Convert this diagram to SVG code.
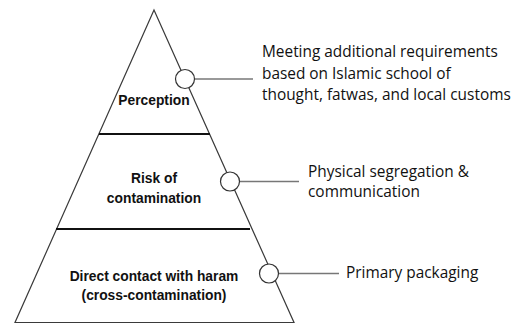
<svg xmlns="http://www.w3.org/2000/svg" width="518" height="324" viewBox="0 0 518 324">
<style>
.edge{fill:none;stroke:#3a3a3a;stroke-width:1.2}
.div{stroke:#111;stroke-width:2}
.conn{stroke:#777;stroke-width:1.5}
.dot{fill:#fff;stroke:#333;stroke-width:1.2}
.lbl{font-family:"Liberation Sans",Arial,sans-serif;font-weight:bold;font-size:13.8px;fill:#111;text-anchor:middle}
.note{font-family:"Open Sans","Liberation Sans",sans-serif;font-size:15.4px;fill:#111}
</style>
<rect width="518" height="324" fill="#fff"/>
<g id="pyramid">
<polygon class="edge" points="154,10 294,322.5 15,322.5"/>
</g>
<g id="perception">
<line class="div" x1="99" y1="134" x2="210" y2="134"/>
<text class="lbl" x="154" y="105">Perception</text>
</g>
<g id="risk">
<line class="div" x1="56" y1="229" x2="250" y2="229"/>
<text class="lbl" x="154" y="183">Risk of</text>
<text class="lbl" x="154" y="203">contamination</text>
</g>
<g id="direct">
<text class="lbl" x="154" y="281">Direct contact with haram</text>
<text class="lbl" x="154" y="300">(cross-contamination)</text>
</g>
<g id="connectors">
<line class="conn" x1="195" y1="79" x2="253" y2="79"/>
<line class="conn" x1="240" y1="181.5" x2="299" y2="181.5"/>
<line class="conn" x1="279" y1="273.5" x2="339" y2="273.5"/>
<circle class="dot" cx="185" cy="79" r="9.5"/>
<circle class="dot" cx="230" cy="181.5" r="9.5"/>
<circle class="dot" cx="269" cy="273.5" r="9.5"/>
</g>
<g id="note1">
<text class="note" x="262" y="57">Meeting additional requirements</text>
<text class="note" x="262" y="78.5">based on Islamic school of</text>
<text class="note" x="262" y="100">thought, fatwas, and local customs</text>
</g>
<g id="note2">
<text class="note" x="308" y="177">Physical segregation &amp;</text>
<text class="note" x="308" y="197">communication</text>
</g>
<g id="note3">
<text class="note" x="346" y="278">Primary packaging</text>
</g>
</svg>
